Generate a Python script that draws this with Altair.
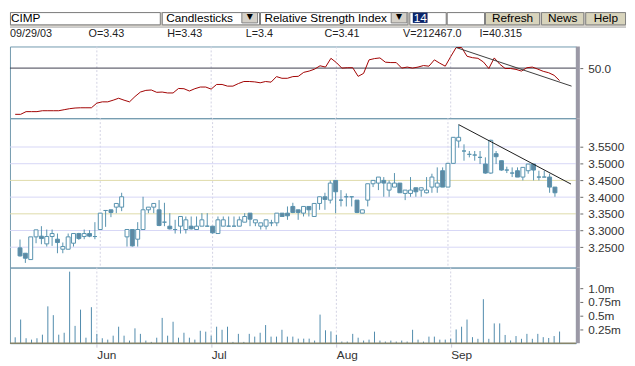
import altair as alt
import pandas as pd

FONT = "Liberation Sans"

# ---------------- data ----------------
opens = [3.248, 3.232, 3.213, 3.281, 3.283, 3.260, 3.282, 3.274, 3.244, 3.244,
         3.262, 3.291, 3.282, 3.291, 3.282, 3.303, 3.360, 3.362, 3.370, 3.370,
         3.281, 3.303, 3.274, 3.303, 3.362, 3.370, 3.362, 3.325, 3.313, 3.303,
         3.313, 3.303, 3.313, 3.303, 3.313, 3.313, 3.313, 3.291, 3.313, 3.313,
         3.313, 3.313, 3.325, 3.352, 3.323, 3.313, 3.313, 3.323, 3.323, 3.352,
         3.352, 3.372, 3.362, 3.352, 3.372, 3.342, 3.381, 3.401, 3.391, 3.450,
         3.391, 3.401, 3.401, 3.391, 3.352, 3.391, 3.440, 3.442, 3.450, 3.421,
         3.430, 3.442, 3.411, 3.411, 3.428, 3.421, 3.413, 3.430, 3.430, 3.479,
         3.430, 3.501, 3.568, 3.538, 3.528, 3.526, 3.519, 3.499, 3.472, 3.530,
         3.509, 3.481, 3.472, 3.479, 3.460, 3.479, 3.499, 3.460, 3.460, 3.460,
         3.430]
highs = [3.273, 3.232, 3.281, 3.302, 3.313, 3.303, 3.303, 3.291, 3.264, 3.291,
         3.291, 3.293, 3.303, 3.301, 3.325, 3.352, 3.360, 3.362, 3.381, 3.413,
         3.303, 3.303, 3.325, 3.401, 3.370, 3.381, 3.391, 3.383, 3.352, 3.332,
         3.342, 3.342, 3.342, 3.342, 3.352, 3.352, 3.313, 3.342, 3.342, 3.342,
         3.342, 3.342, 3.352, 3.352, 3.332, 3.323, 3.332, 3.332, 3.352, 3.352,
         3.372, 3.383, 3.362, 3.372, 3.372, 3.381, 3.401, 3.413, 3.450, 3.450,
         3.421, 3.411, 3.401, 3.391, 3.362, 3.440, 3.450, 3.460, 3.460, 3.450,
         3.472, 3.442, 3.421, 3.460, 3.428, 3.428, 3.460, 3.470, 3.489, 3.489,
         3.501, 3.579, 3.617, 3.558, 3.538, 3.538, 3.538, 3.519, 3.572, 3.538,
         3.509, 3.491, 3.489, 3.489, 3.489, 3.499, 3.499, 3.479, 3.479, 3.470,
         3.430]
lows = [3.222, 3.203, 3.213, 3.262, 3.259, 3.252, 3.254, 3.232, 3.232, 3.244,
        3.252, 3.272, 3.274, 3.280, 3.274, 3.303, 3.311, 3.340, 3.352, 3.358,
        3.252, 3.252, 3.252, 3.303, 3.352, 3.352, 3.313, 3.313, 3.303, 3.291,
        3.291, 3.291, 3.303, 3.303, 3.313, 3.313, 3.291, 3.291, 3.313, 3.313,
        3.313, 3.313, 3.325, 3.313, 3.313, 3.303, 3.303, 3.313, 3.313, 3.342,
        3.332, 3.352, 3.332, 3.342, 3.342, 3.342, 3.362, 3.362, 3.381, 3.352,
        3.372, 3.372, 3.372, 3.352, 3.352, 3.372, 3.430, 3.421, 3.401, 3.401,
        3.430, 3.413, 3.391, 3.401, 3.401, 3.401, 3.411, 3.413, 3.413, 3.430,
        3.430, 3.501, 3.548, 3.509, 3.519, 3.509, 3.499, 3.470, 3.470, 3.499,
        3.479, 3.472, 3.460, 3.460, 3.450, 3.470, 3.450, 3.450, 3.460, 3.413,
        3.401]
closes = [3.224, 3.217, 3.281, 3.302, 3.276, 3.282, 3.291, 3.264, 3.252, 3.281,
          3.291, 3.276, 3.291, 3.283, 3.282, 3.352, 3.360, 3.354, 3.381, 3.401,
          3.303, 3.254, 3.303, 3.362, 3.370, 3.381, 3.315, 3.325, 3.305, 3.303,
          3.342, 3.332, 3.305, 3.313, 3.332, 3.313, 3.293, 3.332, 3.332, 3.313,
          3.313, 3.332, 3.342, 3.334, 3.332, 3.323, 3.332, 3.323, 3.352, 3.342,
          3.344, 3.354, 3.354, 3.372, 3.362, 3.381, 3.401, 3.393, 3.442, 3.416,
          3.391, 3.401, 3.401, 3.354, 3.362, 3.440, 3.450, 3.460, 3.442, 3.442,
          3.442, 3.413, 3.421, 3.421, 3.416, 3.428, 3.421, 3.460, 3.442, 3.430,
          3.501, 3.579, 3.579, 3.538, 3.528, 3.526, 3.519, 3.472, 3.570, 3.521,
          3.481, 3.481, 3.472, 3.460, 3.489, 3.499, 3.481, 3.460, 3.460, 3.430,
          3.413]
volumes_m = [0.107, 0.43, 0.09, 0.065, 0.09, 0.155, 0.67, 0.51, 0.155, 0.19,
             1.30, 0.315, 0.61, 0.10, 0.655, 0.17, 0.09, 0.065, 0.137, 0.30,
             0.137, 0.048, 0.27, 0.17, 0.048, 0.024, 0.10, 0.46, 0.137, 0.39,
             0.10, 0.19, 0.10, 0.065, 0.226, 0.21, 0.137, 0.30, 0.244, 0.30,
             0.024, 0.17, 0.024, 0.17, 0.12, 0.19, 0.33, 0.12, 0.12, 0.244,
             0.12, 0.12, 0.083, 0.083, 0.083, 0.048, 0.52, 0.235, 0.215, 0.15,
             0.03, 0.03, 0.17, 0.10, 0.048, 0.065, 0.21, 0.048, 0.03, 0.048,
             0.03, 0.048, 0.03, 0.244, 0.065, 0.03, 0.12, 0.12, 0.065, 0.065,
             0.083, 0.25, 0.30, 0.43, 0.11, 0.08, 0.80, 0.08, 0.36, 0.36,
             0.15, 0.05, 0.13, 0.08, 0.17, 0.08, 0.17, 0.11, 0.095, 0.13,
             0.212]
rsi = [14.1, 14.1, 16.2, 16.2, 16.2, 16.9, 16.9, 16.9, 16.9, 17.7,
       18.5, 19.0, 19.2, 19.2, 19.2, 22.8, 23.8, 23.8, 25.1, 26.6,
       25.1, 23.8, 27.9, 31.4, 32.7, 33.0, 31.2, 31.4, 30.7, 30.7,
       34.2, 34.0, 32.2, 34.0, 35.3, 35.3, 33.7, 37.3, 37.3, 36.0,
       36.0, 38.0, 39.6, 39.6, 39.3, 38.6, 39.6, 39.1, 43.4, 42.1,
       42.1, 43.4, 43.6, 46.7, 47.7, 49.2, 51.8, 50.8, 57.6, 54.3,
       50.0, 50.3, 50.3, 43.6, 45.9, 56.4, 57.4, 57.9, 54.6, 54.3,
       54.3, 50.0, 50.8, 50.0, 50.8, 52.0, 51.5, 56.4, 53.8, 51.5,
       58.9, 66.0, 66.0, 59.2, 58.1, 57.6, 54.8, 49.7, 57.9, 53.1,
       49.7, 49.7, 49.0, 47.7, 50.3, 50.8, 49.2, 47.5, 46.4, 44.4,
       40.3]
month_labels = ["Jun", "Jul", "Aug", "Sep"]
month_start_idx = [15, 36, 59, 80]
price_ticks = [3.25, 3.30, 3.35, 3.40, 3.45, 3.50, 3.55]
price_grid_blue = [3.25, 3.30, 3.40, 3.50, 3.55]
price_grid_yellow = [3.35, 3.45]
volume_ticks = [250000, 500000, 750000, 1000000]
rsi_ticks = [50]
price_trend_idx = [82, 103]
price_trend_val = [3.617, 3.439]
rsi_trend_idx = [81, 102.2]
rsi_trend_val = [66.0, 36.0]
symbol = "CIMP"
chart_type = "Candlesticks"
indicator = "Relative Strength Index"
period = "14"
buttons = ["Refresh", "News", "Help"]
info_texts = ["09/29/03", "O=3.43", "H=3.43", "L=3.4", "C=3.41", "V=212467.0", "I=40.315"]

# ---------------- tables ----------------
n = len(opens)
candles = pd.DataFrame({
    "i": list(range(n)), "open": opens, "high": highs, "low": lows, "close": closes,
    "kind": ["down" if c < o else "up" for o, c in zip(opens, closes)],
})
vol_df = pd.DataFrame({"i": list(range(n)), "vol": [v * 1e6 for v in volumes_m], "zero": [0] * n})
rsi_df = pd.DataFrame({"i": list(range(n)), "rsi": rsi})
months_df = pd.DataFrame({"i": month_start_idx, "m": month_labels})
dummy = pd.DataFrame({"d": [0]})

# ---------------- styling ----------------
W = 576
H_HEAD, H_RSI, H_PRICE, H_VOL = 35, 73, 152, 77
CANDLE = "#5792ae"
CANDLE_FILL = "#5f89a2"
LABEL = "#333333"
xscale = alt.Scale(domain=[-0.96, 103.0], nice=False, zero=False)


def right_axis(values, fmt=None, expr=None):
    kw = dict(orient="right", values=values, title=None, grid=False, domain=False,
              tickSize=3, offset=4, labelPadding=5, labelFont=FONT, labelFontSize=12,
              labelColor=LABEL, tickColor="#666666")
    if fmt:
        kw["format"] = fmt
    if expr:
        kw["labelExpr"] = expr
    return alt.Axis(**kw)


def side_bar(h):
    return alt.Chart(dummy).mark_rect(fill="#9b99a6").encode(
        x=alt.value(W), x2=alt.value(W + 4), y=alt.value(0), y2=alt.value(h))


def month_rules(x):
    return alt.Chart(months_df).mark_rule(color="#d2d2e2", strokeDash=[2, 2]).encode(x=x)


# ---------------- header (toolbar + info line), all kept inside its own box ----------------
def rect(x1, y1, x2, y2, fill, stroke="transparent"):
    return alt.Chart(dummy).mark_rect(fill=fill, stroke=stroke, strokeWidth=1).encode(
        x=alt.value(x1), x2=alt.value(x2), y=alt.value(y1), y2=alt.value(y2))


def label(s, x, y, size=12, color="#000000", align="left", font=FONT):
    return alt.Chart(dummy).mark_text(text=s, font=font, fontSize=size, color=color, align=align,
                                      baseline="middle").encode(x=alt.value(x), y=alt.value(y))


TY = 6.5  # toolbar text centre
hl = []
hl.append(rect(0, 0, 627, 15, "#d4d0c8"))
hl.append(rect(0.5, 0.5, 153, 13, "#ffffff", "#7a7a7a"))
hl.append(label(symbol, 1, TY))
hl.append(rect(155, 0.5, 254, 13, "#ffffff", "#7a7a7a"))
hl.append(label(chart_type, 159, TY))
hl.append(rect(236, 0.5, 252, 11, "#d4d0c8", "#808080"))
hl.append(label("\u25bc", 244, 5.5, size=8, align="center", font="DejaVu Sans"))
hl.append(rect(255, 0.5, 405, 13, "#ffffff", "#7a7a7a"))
hl.append(label(indicator, 259, TY))
hl.append(rect(388, 0.5, 404, 11, "#d4d0c8", "#808080"))
hl.append(label("\u25bc", 396, 5.5, size=8, align="center", font="DejaVu Sans"))
hl.append(rect(407, 0.5, 444, 13, "#ffffff", "#7a7a7a"))
hl.append(rect(410, 0.5, 425, 11, "#0a246a"))
hl.append(label(period, 411, TY, color="#ffffff"))
hl.append(rect(445, 0.5, 483, 13, "#ffffff", "#7a7a7a"))
for txt, (bx1, bx2), cx in zip(buttons, [(484, 539), (541, 584), (586, 626.5)], [511.5, 562.5, 606.5]):
    hl.append(rect(bx1, 0.5, bx2, 13, "#d8d4bc", "#808080"))
    hl.append(label(txt, cx, TY, align="center"))
hl.append(rect(0, 15, 627, 16, "#b8b8b8"))
for txt, px in zip(info_texts, [0, 80, 160, 240, 320, 400, 478]):
    hl.append(label(txt, px, 22, size=11, color="#222222"))

header = alt.layer(*hl).properties(width=627, height=H_HEAD,
                                    view=alt.ViewBackground(stroke="transparent"))

# ---------------- RSI panel ----------------
x_none = alt.X("i:Q", scale=xscale, axis=None)
rsi_scale = alt.Scale(domain=[11.09, 66.79], nice=False, zero=False)
rsi_ax = right_axis(rsi_ticks, fmt=".1f")
rsi_level = alt.Chart(pd.DataFrame({"v": rsi_ticks})).mark_rule(color="#3c3c4c").encode(
    y=alt.Y("v:Q", scale=rsi_scale, axis=rsi_ax))
rsi_line = alt.Chart(rsi_df).mark_line(color="#a00000", strokeWidth=1).encode(
    x=x_none, y=alt.Y("rsi:Q", scale=rsi_scale, axis=rsi_ax))
rsi_trend = alt.Chart(pd.DataFrame({"i": rsi_trend_idx, "v": rsi_trend_val})).mark_line(
    color="#3a3a3a", strokeWidth=1).encode(x=x_none, y=alt.Y("v:Q", scale=rsi_scale, axis=rsi_ax))
rsi_chart = alt.layer(month_rules(x_none), rsi_level, rsi_line, rsi_trend, side_bar(H_RSI)).properties(
    width=W, height=H_RSI)

# ---------------- price panel ----------------
p_scale = alt.Scale(domain=[3.1891, 3.6362], nice=False, zero=False)
p_ax = right_axis(price_ticks, fmt=".4f")
grid_b = alt.Chart(pd.DataFrame({"p": price_grid_blue})).mark_rule(color="#d6d6f6").encode(
    y=alt.Y("p:Q", scale=p_scale, axis=p_ax))
grid_y = alt.Chart(pd.DataFrame({"p": price_grid_yellow})).mark_rule(color="#dedaa8").encode(
    y=alt.Y("p:Q", scale=p_scale, axis=p_ax))
wicks = alt.Chart(candles).mark_rule(color=CANDLE, strokeWidth=1).encode(
    x=x_none, y=alt.Y("low:Q", scale=p_scale, axis=p_ax), y2="high:Q")
bodies = alt.Chart(candles).mark_bar(size=4, stroke=CANDLE, strokeWidth=1).encode(
    x=x_none, y=alt.Y("open:Q", scale=p_scale, axis=p_ax), y2="close:Q",
    fill=alt.Fill("kind:N", scale=alt.Scale(domain=["up", "down"], range=["#ffffff", CANDLE_FILL]),
                  legend=None))
p_trend = alt.Chart(pd.DataFrame({"i": price_trend_idx, "p": price_trend_val})).mark_line(
    color="#1a1a1a", strokeWidth=1).encode(x=x_none, y=alt.Y("p:Q", scale=p_scale, axis=p_ax))
price_chart = alt.layer(month_rules(x_none), grid_b, grid_y, wicks, bodies, p_trend,
                        side_bar(H_PRICE)).properties(width=W, height=H_PRICE)

# ---------------- volume panel ----------------
expr = "''"
for idx, name in zip(month_start_idx[::-1], month_labels[::-1]):
    expr = f"datum.value == {idx} ? '{name}' : ({expr})"
x_ax = alt.Axis(values=month_start_idx, labelExpr=expr, orient="bottom", domain=False, grid=False,
                tickSize=4, tickColor="#c8c8d8", labelAlign="left", labelPadding=3, title=None,
                labelFont=FONT, labelFontSize=12, labelColor=LABEL, labelFlush=False)
x_vol = alt.X("i:Q", scale=xscale, axis=x_ax)
v_scale = alt.Scale(domain=[0, 1375000], nice=False, zero=False)
v_expr = "datum.value == 1000000 ? '1.0m' : (datum.value / 1000000) + 'm'"
v_ax = right_axis(volume_ticks, expr=v_expr)
vol_bars = alt.Chart(vol_df).mark_rule(color="#4f8aab", strokeWidth=1).encode(
    x=x_vol, y=alt.Y("vol:Q", scale=v_scale, axis=v_ax), y2="zero:Q")
vol_base = alt.Chart(pd.DataFrame({"vol": [0]})).mark_rule(color="#86846a", strokeWidth=1.5).encode(
    y=alt.Y("vol:Q", scale=v_scale, axis=v_ax))
vol_chart = alt.layer(month_rules(x_vol), vol_bars, vol_base, side_bar(H_VOL)).properties(
    width=W, height=H_VOL)

chart = alt.vconcat(header, rsi_chart, price_chart, vol_chart, spacing=0, bounds="flush").properties(
    padding=0, background="white").configure_view(stroke="#7199ad", strokeWidth=1)

chart.save("out.html", embed_options={"renderer": "svg", "actions": False})
